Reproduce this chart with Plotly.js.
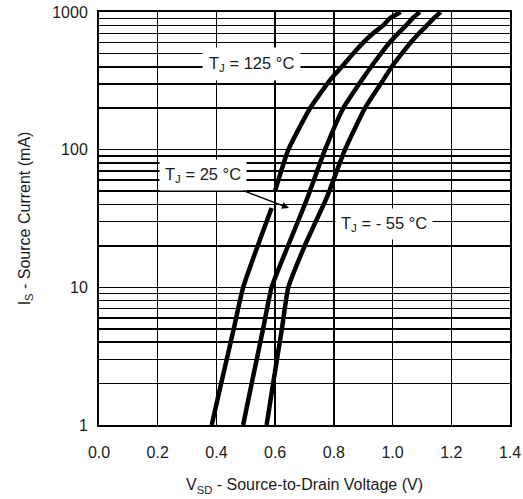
<!DOCTYPE html>
<html>
<head>
<meta charset="utf-8">
<script src="https://cdn.plot.ly/plotly-3.0.1.min.js"></script>
<style>html,body{margin:0;padding:0;background:#fff;}#chart{width:523px;height:499px;}</style>
</head>
<body>
<div id="chart"></div>
<script>
// Source-to-drain voltage (V) vs source current (mA)
const V_125 = [0.384, 0.416, 0.459, 0.491, 0.588, null, 0.599, 0.645, 0.719, 0.787, 0.827, 0.866, 0.900, 0.934, 0.968, 0.991, 1.028];
const I_125 = [1, 2, 5, 10, 37.7, null, 49.5, 100, 200, 320, 400, 500, 600, 700, 800, 900, 1000];

const V_25 = [0.491, 0.520, 0.559, 0.588, 0.645, 0.707, 0.770, 0.832, 0.895, 0.927, 0.961, 0.990, 1.019, 1.046, 1.068, 1.093];
const I_25 = [1, 2, 5, 10, 20.3, 43, 100, 200, 320, 400, 500, 600, 700, 800, 900, 1000];

const V_m55 = [0.571, 0.593, 0.623, 0.645, 0.702, 0.776, 0.838, 0.906, 0.968, 0.997, 1.032, 1.062, 1.090, 1.117, 1.140, 1.164];
const I_m55 = [1, 2, 5, 10, 20.3, 45, 100, 200, 320, 400, 500, 600, 700, 800, 900, 1000];

const seriesNames = ['T<sub>J</sub> = 125 °C', 'T<sub>J</sub> = 25 °C', 'T<sub>J</sub> = - 55 °C'];

const yTickVals = [1, 10, 100, 1000];
const yTickText = ['1', '10', '100', '1000'];
const yMinorVals = [2,3,4,5,6,7,8,9,20,30,40,50,60,70,80,90,200,300,400,500,600,700,800,900];

const xTitle = 'V<sub>SD</sub> - Source-to-Drain Voltage (V)';
const yTitle = 'I<sub>S</sub> - Source Current (mA)';

const lineStyle = {color: '#000', width: 4.5, shape: 'spline', smoothing: 0.5};
const traces = [
  {x: V_125, y: I_125, name: seriesNames[0], mode: 'lines', line: lineStyle, connectgaps: false},
  {x: V_25, y: I_25, name: seriesNames[1], mode: 'lines', line: lineStyle},
  {x: V_m55, y: I_m55, name: seriesNames[2], mode: 'lines', line: lineStyle}
];

const fontFam = 'Liberation Sans, Arial, Helvetica, sans-serif';
const labelFont = {family: fontFam, size: 16.5, color: '#1a1a1a'};

const layout = {
  width: 523, height: 499,
  margin: {l: 99, r: 13, t: 12, b: 74},
  paper_bgcolor: '#fff', plot_bgcolor: '#fff',
  showlegend: false,
  font: {family: fontFam, size: 16, color: '#1a1a1a'},
  xaxis: {
    range: [0, 1.4], dtick: 0.2, tick0: 0, tickformat: '.1f',
    showgrid: true, gridcolor: '#000', gridwidth: 1.5,
    zeroline: false, showline: true, mirror: true, linecolor: '#000', linewidth: 2,
    ticks: 'outside', ticklen: 12, tickcolor: 'rgba(0,0,0,0)',
    tickfont: {family: fontFam, size: 16, color: '#1a1a1a'},
    title: {text: xTitle, font: {family: fontFam, size: 16, color: '#1a1a1a'}, standoff: 19},
    automargin: false
  },
  yaxis: {
    type: 'log', range: [0, 3],
    tickmode: 'array', tickvals: yTickVals, ticktext: yTickText,
    showgrid: true, gridcolor: '#000', gridwidth: 1.5,
    minor: {tickmode: 'array', tickvals: yMinorVals, showgrid: true, gridcolor: '#000', gridwidth: 1.5, ticks: ''},
    zeroline: false, showline: true, mirror: true, linecolor: '#000', linewidth: 2,
    ticks: 'outside', ticklen: 6, tickcolor: 'rgba(0,0,0,0)',
    tickfont: {family: fontFam, size: 16, color: '#1a1a1a'},
    title: {text: yTitle, font: {family: fontFam, size: 16, color: '#1a1a1a'}, standoff: 18},
    automargin: false
  },
  annotations: [
    {x: 0.518, y: 2.62, xref: 'x', yref: 'y', text: seriesNames[0], showarrow: false,
     font: labelFont, bgcolor: '#fff', borderpad: 6},
    {x: 0.647, y: 1.576, xref: 'x', yref: 'y', text: seriesNames[1], showarrow: true,
     ax: -86, ay: -33, arrowhead: 2, arrowsize: 1, arrowwidth: 1.4, arrowcolor: '#000',
     font: labelFont, bgcolor: '#fff', borderpad: 5},
    {x: 0.971, y: 1.46, xref: 'x', yref: 'y', text: seriesNames[2], showarrow: false,
     font: labelFont, bgcolor: '#fff', borderpad: 5}
  ]
};

Plotly.newPlot('chart', traces, layout, {staticPlot: true, displayModeBar: false});
</script>
</body>
</html>
